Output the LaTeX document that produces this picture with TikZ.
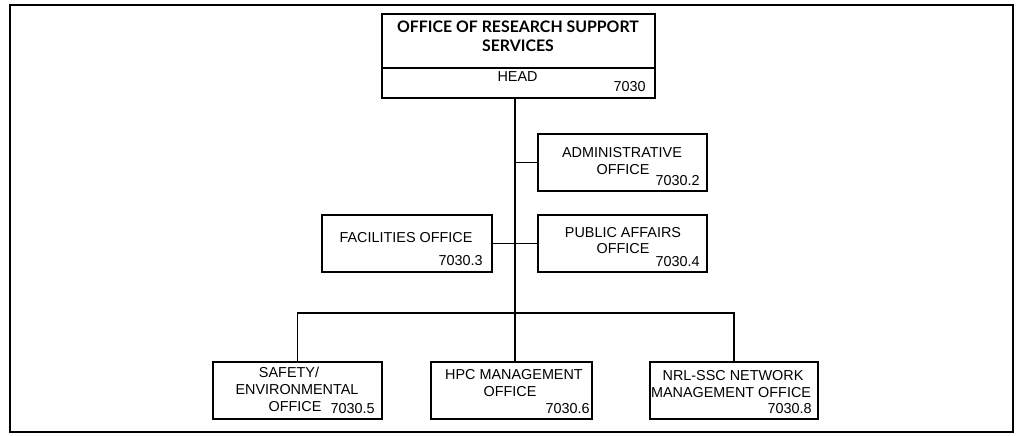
\documentclass[tikz,border=0pt]{standalone}
\usepackage{fontspec}
\setmainfont{Liberation Sans}
\newfontfamily\titlefont{Lato}
\begin{document}
\begin{tikzpicture}[x=0.75pt,y=-0.75pt,
  box/.style={draw=black,line width=1pt,rectangle,inner sep=0pt,minimum height=57*0.75pt},
  lbl/.style={anchor=base,inner sep=0pt,font=\fontsize{10.8pt}{12pt}\selectfont},
  num/.style={anchor=base east,inner sep=0pt,font=\fontsize{10.8pt}{12pt}\selectfont},
  ttl/.style={anchor=base,inner sep=0pt,font=\titlefont\bfseries\fontsize{11.9pt}{14pt}\selectfont},
  link/.style={draw=black,line width=1pt}]
\useasboundingbox (0,0) rectangle (1016,435);
\draw[line width=1.6pt] (10,5) rectangle (1013,432);
% boxes
\node[box,line width=1.2pt,minimum width=273*0.75pt,minimum height=84*0.75pt] (top) at (518.5,56) {};
\coordinate (divL) at (382,68);
\coordinate (divR) at (655,68);
\draw[line width=1.2pt] (divL) -- (divR);
\node[box,minimum width=169*0.75pt] (adm) at (622.5,162.5) {};
\node[box,minimum width=169*0.75pt] (pub) at (622.5,243.5) {};
\node[box,minimum width=170*0.75pt] (fac) at (407,243.5) {};
\node[box,minimum width=169*0.75pt] (saf) at (297.5,390.5) {};
\node[box,minimum width=161*0.75pt] (hpc) at (511.5,390.5) {};
\node[box,minimum width=168*0.75pt] (nrl) at (734,390.5) {};
% connectors
\coordinate (bar) at (515,313);
\draw[link] (top.south -| bar) -- (hpc.north -| bar);
\draw[link] (adm.west) -- (adm.west -| bar);
\draw[link] (fac.east) -- (pub.west);
\draw[link] (saf.north) |- (bar) -| (nrl.north);
% texts
\node[ttl] (t1) at (518,33) {OFFICE OF RESEARCH SUPPORT};
\node[ttl] (t2) at (518,52) {SERVICES};
\node[lbl] (t3) at (517.5,81) {HEAD};
\node[num] (t4) at (646,91) {7030};
\node[lbl] (a1) at (622,157) {ADMINISTRATIVE};
\node[lbl] (a2) at (623,174) {OFFICE};
\node[num] (a3) at (700,185) {7030.2};
\node[lbl] (p1) at (623,237) {PUBLIC AFFAIRS};
\node[lbl] (p2) at (623,253) {OFFICE};
\node[num] (p3) at (700,266) {7030.4};
\node[lbl] (f1) at (406,242) {FACILITIES OFFICE};
\node[num] (f2) at (483,265) {7030.3};
\node[lbl] (s1) at (289,377) {SAFETY/};
\node[lbl] (s2) at (297,394) {ENVIRONMENTAL};
\node[lbl] (s3) at (295,411) {OFFICE};
\node[num] (s4) at (375,413) {7030.5};
\node[lbl] (h1) at (514,379) {HPC MANAGEMENT};
\node[lbl] (h2) at (510,396) {OFFICE};
\node[num] (h3) at (590,413) {7030.6};
\node[lbl] (n1) at (733,380) {NRL-SSC NETWORK};
\node[lbl] (n2) at (731,397) {MANAGEMENT OFFICE};
\node[num] (n3) at (812,413) {7030.8};
\end{tikzpicture}
\end{document}
